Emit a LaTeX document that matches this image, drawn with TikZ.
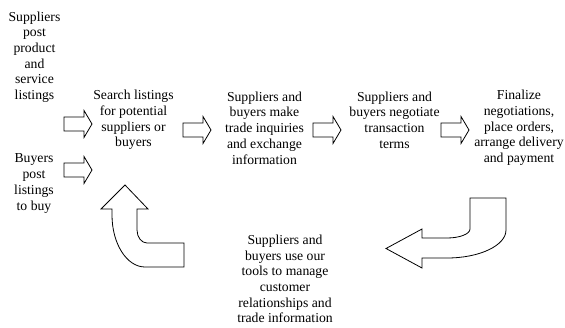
\documentclass[tikz,border=0pt]{standalone}
\usepackage{fontspec}
\setmainfont{Liberation Serif}
\begin{document}
\begin{tikzpicture}[x=1pt,y=-1pt,
  lbl/.style={align=center,inner sep=0pt,font=\fontsize{13.7}{15.7}\selectfont},
  outline/.style={draw=black,line width=0.8pt,fill=white,line join=miter},
  barrow/.pic={\draw[outline] (0,-7) -- (20,-7) -- (20,-13.5) -- (28,0) -- (20,13.5) -- (20,7) -- (0,7) -- cycle;}]
\useasboundingbox (0,0) rectangle (565,327);
\node[lbl] (sup) at (34.5,57) {Suppliers\\post\\product\\and\\service\\listings};
\node[lbl] (buy) at (34,183.5) {Buyers\\post\\listings\\to buy};
\node[lbl] (search) at (133.5,120) {Search listings\\for potential\\suppliers or\\buyers};
\node[lbl] (inq) at (264.5,128) {Suppliers and\\buyers make\\trade inquiries\\and exchange\\information};
\node[lbl] (neg) at (394.5,120) {Suppliers and\\buyers negotiate\\transaction\\terms};
\node[lbl] (fin) at (519,128) {Finalize\\negotiations,\\place orders,\\arrange delivery\\and payment};
\node[lbl] (tools) at (285,279) {Suppliers and\\buyers use our\\tools to manage\\customer\\relationships and\\trade information};
\pic at (64,124) {barrow};
\pic at (64,170) {barrow};
\pic at (183,130) {barrow};
\pic at (313,130) {barrow};
\pic at (441,130) {barrow};
% curved arrow back up
\draw[outline] (125,185) -- (148,209) -- (137,209) -- (137,230)
  .. controls (137,237.2) and (141.5,243) .. (147,243)
  -- (184,243) -- (184,267) -- (145,267)
  .. controls (126.8,267) and (112,243.7) .. (112,215)
  -- (112,209) -- (101,209) -- cycle;
% curved arrow down-left
\draw[outline] (386,248.5) -- (422,229) -- (422,238) -- (447,238)
  .. controls (459.7,238) and (470,234) .. (470,229)
  -- (470,198) -- (506,198) -- (506,230)
  .. controls (506,245.5) and (479.6,258) .. (447,258)
  -- (422,258) -- (422,268) -- cycle;
\end{tikzpicture}
\end{document}
